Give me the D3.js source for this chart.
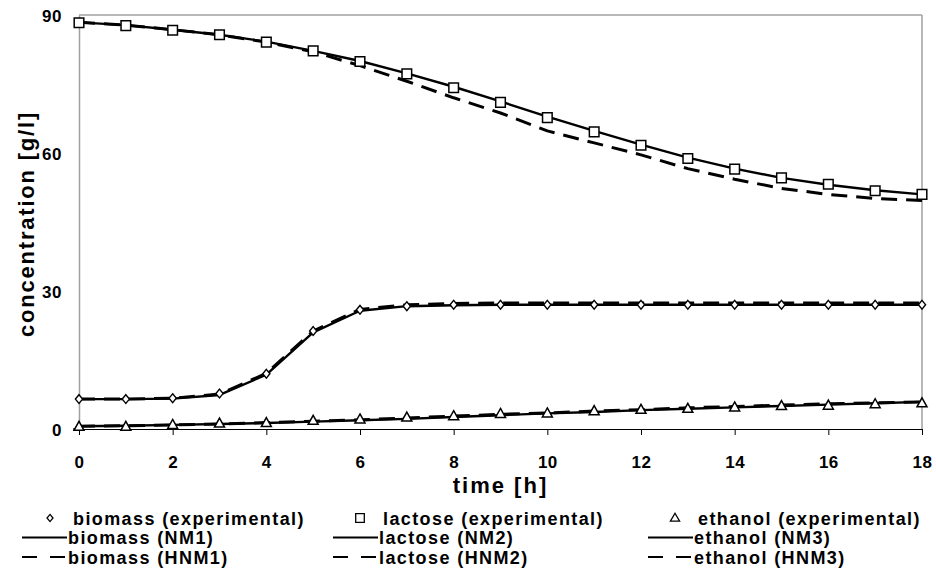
<!DOCTYPE html>
<html>
<head>
<meta charset="utf-8">
<script src="https://cdn.jsdelivr.net/npm/d3@7"></script>
<style>
  body { margin: 0; background: #fff; }
  text { font-family: "Liberation Sans", Arial, sans-serif; font-weight: bold; fill: #000; }
</style>
</head>
<body>
<svg id="chart" width="936" height="576"></svg>
<script>
// time points, h
const hours = [0, 1, 2, 3, 4, 5, 6, 7, 8, 9, 10, 11, 12, 13, 14, 15, 16, 17, 18];
// experimental data
const biomassExp = [6.5, 6.5, 6.7, 7.7, 12.0, 21.3, 25.9, 26.7, 27.0, 27.0, 27.0, 27.0, 27.0, 27.0, 27.0, 27.0, 27.0, 27.0, 27.0];
const lactoseExp = [88.3, 87.7, 86.7, 85.7, 84.1, 82.2, 79.9, 77.2, 74.2, 71.0, 67.7, 64.6, 61.7, 58.8, 56.5, 54.6, 53.2, 51.8, 51.0];
const ethanolExp = [0.5, 0.5, 0.9, 1.2, 1.3, 1.8, 2.1, 2.5, 2.8, 3.3, 3.4, 3.9, 4.2, 4.4, 4.7, 5.0, 5.1, 5.4, 5.6];
// model curves (NM = solid, HNM = dashed)
const biomassNM1 = [6.5, 6.5, 6.6, 7.4, 11.8, 21.0, 25.7, 26.7, 26.9, 27.0, 27.0, 27.0, 27.0, 27.0, 27.0, 27.0, 27.0, 27.0, 27.0];
const biomassHNM1 = [6.5, 6.5, 6.7, 7.6, 12.1, 21.3, 26.0, 27.0, 27.3, 27.4, 27.4, 27.4, 27.4, 27.4, 27.4, 27.4, 27.4, 27.4, 27.4];
const lactoseNM2 = [88.4, 87.8, 86.8, 85.7, 84.2, 82.2, 80.0, 77.3, 74.4, 71.2, 67.9, 64.8, 61.8, 59.0, 56.6, 54.6, 53.1, 51.9, 51.0];
const lactoseHNM2 = [88.4, 87.8, 86.8, 85.7, 84.1, 82.0, 79.0, 75.6, 72.0, 68.7, 64.8, 62.2, 59.6, 56.6, 54.3, 52.3, 51.0, 50.1, 49.7];
const ethanolNM3 = [0.6, 0.7, 0.9, 1.1, 1.3, 1.6, 1.9, 2.2, 2.6, 3.0, 3.4, 3.7, 4.1, 4.4, 4.7, 5.0, 5.3, 5.6, 5.9];
const ethanolHNM3 = [0.6, 0.7, 0.9, 1.1, 1.4, 1.7, 2.0, 2.4, 2.8, 3.2, 3.5, 3.9, 4.2, 4.6, 4.9, 5.2, 5.5, 5.7, 5.9];
// axes
const xTicks = [0, 2, 4, 6, 8, 10, 12, 14, 16, 18];
const yTicks = [0, 30, 60, 90];
const xTitle = 'time [h]';
const yTitle = 'concentration [g/l]';
// legend texts
const legendExp = ['biomass (experimental)', 'lactose (experimental)', 'ethanol (experimental)'];
const legendNM = ['biomass (NM1)', 'lactose (NM2)', 'ethanol (NM3)'];
const legendHNM = ['biomass (HNM1)', 'lactose (HNM2)', 'ethanol (HNM3)'];

const svg = d3.select('#chart');
const x = d3.scaleLinear().domain([0, 18]).range([79, 922]);
const y = d3.scaleLinear().domain([0, 90]).range([429, 15]);
const frameColor = '#a0a0a0';

// 边框 frame (top / right in grey)
svg.append('line').attr('x1', x(0)).attr('x2', x(18)).attr('y1', y(90)).attr('y2', y(90))
    .attr('stroke', frameColor).attr('stroke-width', 1.5);
svg.append('line').attr('x1', x(18)).attr('x2', x(18)).attr('y1', y(90)).attr('y2', y(0))
    .attr('stroke', frameColor).attr('stroke-width', 1.5);

// y axis
const yAxis = svg.append('g').attr('transform', `translate(${x(0)},0)`)
    .call(d3.axisLeft(y).tickValues(yTicks).tickSize(0).tickSizeOuter(0).tickPadding(17));
yAxis.select('.domain').attr('stroke', frameColor).attr('stroke-width', 1.5);
yAxis.selectAll('text').style('font-size', '17px').style('letter-spacing', '0.5px').attr('dy', '0.36em');

// x axis
const xAxis = svg.append('g').attr('transform', `translate(0,${y(0)})`)
    .call(d3.axisBottom(x).tickValues(xTicks).tickSize(6).tickSizeOuter(0));
xAxis.select('.domain').attr('stroke', '#000').attr('stroke-width', 1.2);
xAxis.selectAll('.tick line').attr('stroke', '#000');
xAxis.selectAll('text').style('font-size', '17px').style('letter-spacing', '0.5px').attr('y', 39).attr('dy', null);
// little stub left of the origin
svg.append('line').attr('x1', x(0) - 6).attr('x2', x(0)).attr('y1', y(0)).attr('y2', y(0))
    .attr('stroke', '#000').attr('stroke-width', 1.2);

// titles
svg.append('text').text(xTitle).attr('x', (x(0) + x(18)) / 2).attr('y', 493)
    .attr('text-anchor', 'middle').style('font-size', '22px').style('letter-spacing', '2px');
svg.append('text').text(yTitle)
    .attr('transform', 'translate(34,224) rotate(-90)')
    .attr('text-anchor', 'middle').style('font-size', '22px').style('letter-spacing', '1.8px');

// 折线 model lines
const line = d3.line().x((d, i) => x(hours[i])).y(d => y(d));
const dash = '16,9';
[[biomassNM1, null], [lactoseNM2, null], [ethanolNM3, null],
 [biomassHNM1, dash], [lactoseHNM2, dash], [ethanolHNM3, dash]].forEach(([vals, da]) => {
    svg.append('path').attr('d', line(vals)).attr('fill', 'none').attr('stroke', '#000')
        .attr('stroke-width', da ? 3 : 2.4).attr('stroke-dasharray', da)
        .attr('stroke-linejoin', 'round');
});

// markers
const diamond = (cx, cy, w, h) => `M${cx},${cy - h}L${cx + w},${cy}L${cx},${cy + h}L${cx - w},${cy}Z`;
const square = (cx, cy, s) => `M${cx - s},${cy - s}h${2 * s}v${2 * s}h${-2 * s}Z`;
const triangle = (cx, cy, w, h) => `M${cx},${cy - h * 0.6}L${cx + w},${cy + h * 0.4}L${cx - w},${cy + h * 0.4}Z`;

svg.append('g').selectAll('path').data(biomassExp).join('path')
    .attr('d', (d, i) => diamond(x(hours[i]), y(d), 3.6, 4.4))
    .attr('fill', '#fff').attr('stroke', '#000').attr('stroke-width', 1.4);
svg.append('g').selectAll('path').data(lactoseExp).join('path')
    .attr('d', (d, i) => square(x(hours[i]), y(d), 4.8))
    .attr('fill', '#fff').attr('stroke', '#000').attr('stroke-width', 1.5);
svg.append('g').selectAll('path').data(ethanolExp).join('path')
    .attr('d', (d, i) => triangle(x(hours[i]), y(d), 5, 9))
    .attr('fill', '#fff').attr('stroke', '#000').attr('stroke-width', 1.5);

// 图例 legend
const colLine = [22, 333, 648];      // start of legend line sample
const colMarker = [50, 360, 675];    // marker centre
const rowY = [518, 537.5, 557];
const lineLen = 45;
const lg = svg.append('g');
function legendText(t, tx, ty) {
    lg.append('text').text(t).attr('x', tx).attr('y', ty)
        .style('font-size', '18px').style('letter-spacing', '1.4px');
}
legendExp.forEach((t, i) => {
    const cx = colMarker[i], cy = rowY[0];
    let d;
    if (i === 0) d = diamond(cx, cy, 3, 3.6);
    else if (i === 1) d = square(cx, cy, 4.3);
    else d = triangle(cx, cy, 4.6, 8);
    lg.append('path').attr('d', d).attr('fill', '#fff').attr('stroke', '#000').attr('stroke-width', 1.3);
    legendText(t, cx + 23, cy + 6.5);
});
[legendNM, legendHNM].forEach((labels, r) => {
    labels.forEach((t, i) => {
        const x0 = colLine[i], cy = rowY[r + 1];
        lg.append('line').attr('x1', x0).attr('x2', x0 + lineLen).attr('y1', cy).attr('y2', cy)
            .attr('stroke', '#000').attr('stroke-width', 2.2)
            .attr('stroke-dasharray', r === 1 ? '15,13' : null);
        legendText(t, x0 + lineLen + 1, cy + 6.5);
    });
});
</script>
</body>
</html>
